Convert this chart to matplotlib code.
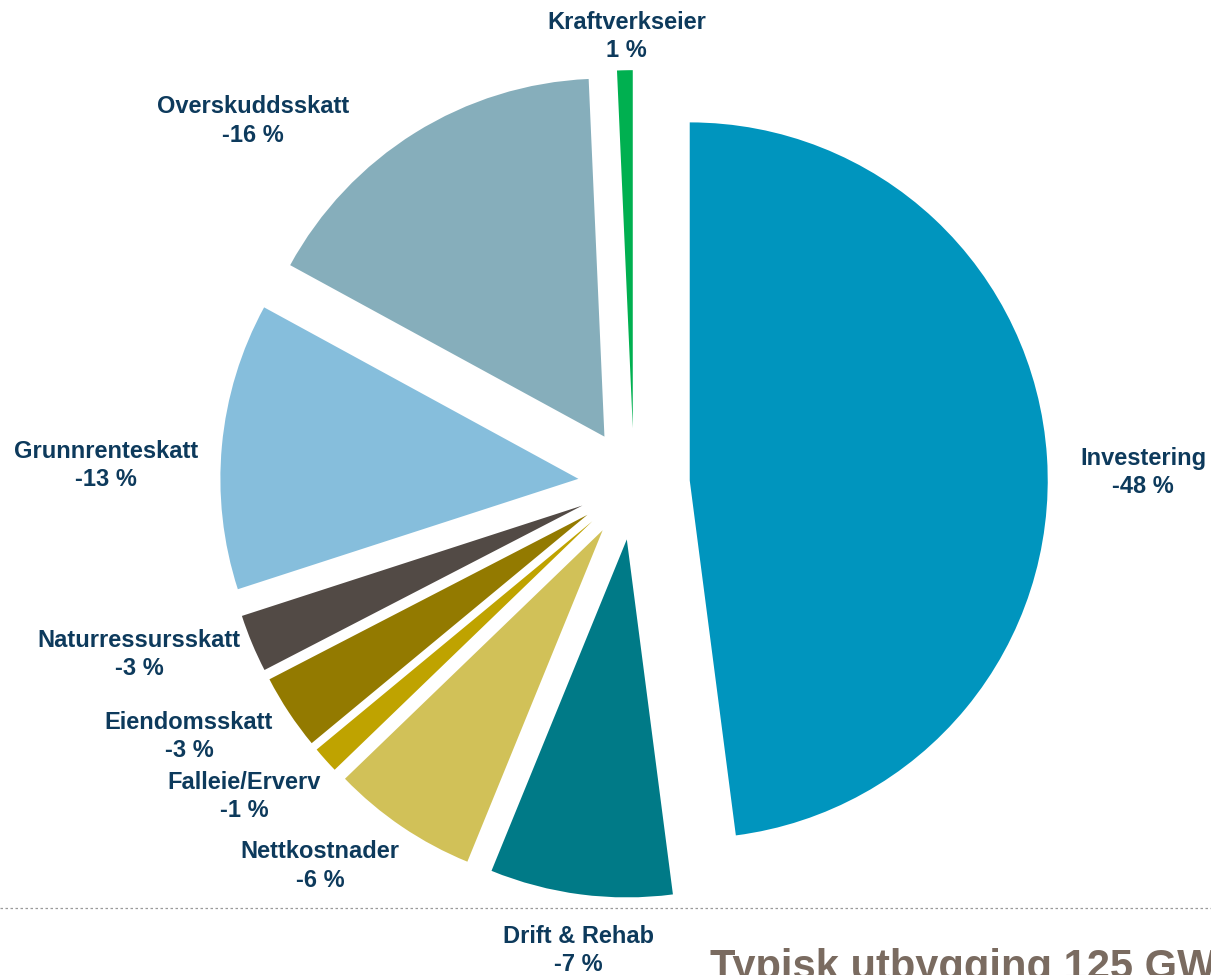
import matplotlib
matplotlib.use("Agg")
import matplotlib.pyplot as plt
from matplotlib.lines import Line2D

plt.rcParams['font.family'] = ['Liberation Sans', 'DejaVu Sans']

# slices, clockwise from 12 o'clock
categories = ['Investering', 'Drift & Rehab', 'Nettkostnader', 'Falleie/Erverv',
              'Eiendomsskatt', 'Naturressursskatt', 'Grunnrenteskatt',
              'Overskuddsskatt', 'Kraftverkseier']
shares = [47.8, 8.2, 6.6, 1.2, 3.4, 2.6, 12.9, 16.3, 0.7]
pct_labels = ['-48 %', '-7 %', '-6 %', '-1 %', '-3 %', '-3 %', '-13 %', '-16 %', '1 %']
colors = ['#0095BE', '#007A87', '#D1C158', '#BFA300', '#937A00',
          '#524A45', '#86BEDC', '#86AEBB', '#00B050']
# where each label sits (pie radius units, from pie centre)
label_pos = [(1.422, 0.031), (-0.156, -1.302), (-0.877, -1.067), (-1.089, -0.872),
             (-1.243, -0.704), (-1.383, -0.475), (-1.475, 0.053), (-1.064, 1.014),
             (-0.02, 1.251)]

fig = plt.figure(figsize=(12.11, 9.75), dpi=100)
ax = fig.add_axes([0, 0, 1, 1])

ax.pie(shares, colors=colors, startangle=90, counterclock=False,
       explode=[0.156] * len(shares), radius=1.0,
       wedgeprops=dict(linewidth=0))

for name, pct, (x, y) in zip(categories, pct_labels, label_pos):
    ax.text(x, y, f"{name}\n{pct}", ha='center', va='center', fontsize=17,
            fontweight='bold', color='#0D3A5C', linespacing=1.28)

# pixel scale: 358 px per unit, centre at (634, 484)
ax.set_xlim(-634 / 358, (1211 - 634) / 358)
ax.set_ylim(-(975 - 484) / 358, 484 / 358)
ax.set_aspect('auto')
ax.axis('off')

fig.add_artist(Line2D([0, 1], [1 - 908 / 975] * 2, transform=fig.transFigure,
                      color='#9A9A9A', linewidth=0.9, linestyle=(0, (2, 2))))
fig.text(710 / 1211, -0.004, 'Typisk utbygging 125 GWh', fontsize=30,
         fontweight='bold', color='#7A6B60', ha='left', va='baseline')

fig.savefig('out.png', dpi=100)
